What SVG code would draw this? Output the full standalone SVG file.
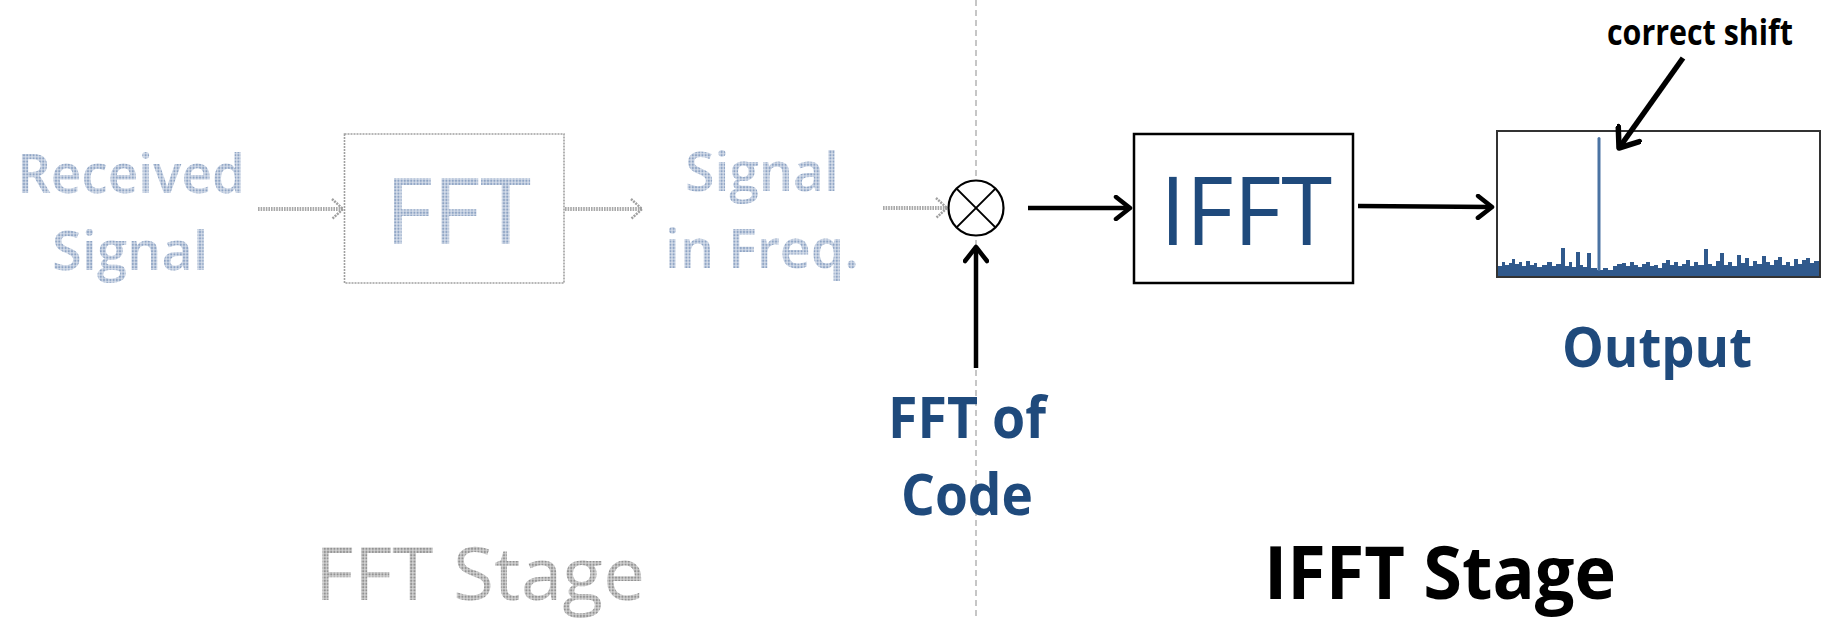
<svg xmlns="http://www.w3.org/2000/svg" width="1826" height="618" viewBox="0 0 1826 618">
<defs>
<pattern id="dotBlue" patternUnits="userSpaceOnUse" width="3.2" height="3.2">
<rect width="3.2" height="3.2" fill="#d6deea"/>
<circle cx="1.6" cy="1.6" r="1.15" fill="#8ea4c4"/>
</pattern>
<pattern id="dotGray" patternUnits="userSpaceOnUse" width="3.2" height="3.2">
<rect width="3.2" height="3.2" fill="#d4d4d4"/>
<circle cx="1.6" cy="1.6" r="1.15" fill="#929292"/>
</pattern>
<marker id="chev" viewBox="0 0 20 26" refX="17" refY="13" markerWidth="20" markerHeight="26" orient="auto" markerUnits="userSpaceOnUse">
<path d="M3,2 L17,13 L3,24" fill="none" stroke="#000" stroke-width="4.5" stroke-linecap="round" stroke-linejoin="round"/>
</marker>
<marker id="chevBig" viewBox="0 0 24 30" refX="20" refY="15" markerWidth="24" markerHeight="30" orient="auto" markerUnits="userSpaceOnUse">
<path d="M3,2 L20,15 L3,28" fill="none" stroke="#000" stroke-width="5.5" stroke-linecap="round" stroke-linejoin="round"/>
</marker>
<marker id="chevGray" viewBox="0 0 16 24" refX="14" refY="12" markerWidth="16" markerHeight="24" orient="auto" markerUnits="userSpaceOnUse">
<path d="M3,2 L14,12 L3,22" fill="none" stroke="#a0a0a0" stroke-width="2.5" stroke-dasharray="2 1"/>
</marker>
</defs>
<style>
text { font-family: "Open Sans", "Noto Sans", "DejaVu Sans", sans-serif; text-anchor: middle; }
.faded { fill: url(#dotBlue); }
.semi { font-weight: 600; }
.fadedGray { fill: url(#dotGray); }
.blue { fill: #1f4a7c; font-weight: bold; }
.conn { stroke: #000; stroke-width: 4.5; fill: none; marker-end: url(#chev); }
.connGray { stroke: #a8a8a8; stroke-width: 4; stroke-dasharray: 1.6 1; fill: none; marker-end: url(#chevGray); }
</style>
<rect width="1826" height="618" fill="#fff"/>

<g id="divider">
<line x1="976" y1="0" x2="976" y2="618" stroke="#b4b4b4" stroke-width="1.5" stroke-dasharray="6 4"/>
</g>

<g id="node-received">
<text class="faded semi" x="131" y="193" font-size="55" textLength="228" lengthAdjust="spacingAndGlyphs">Received</text>
<text class="faded semi" x="130" y="270" font-size="55" textLength="156" lengthAdjust="spacingAndGlyphs">Signal</text>
</g>

<g id="node-fft">
<rect x="344.5" y="134" width="219.5" height="149" fill="none" stroke="#a0a0a0" stroke-width="1.6" stroke-dasharray="2 1"/>
<text class="faded" x="458" y="244" font-size="92" textLength="146" lengthAdjust="spacingAndGlyphs">FFT</text>
</g>

<g id="node-signal-freq">
<text class="faded semi" x="762" y="191" font-size="55" textLength="154" lengthAdjust="spacingAndGlyphs">Signal</text>
<text class="faded semi" x="762" y="268" font-size="55" textLength="194" lengthAdjust="spacingAndGlyphs">in Freq.</text>
</g>

<g id="node-multiplier">
<circle cx="976" cy="208" r="27.5" fill="#fff" stroke="#000" stroke-width="2.2"/>
<line x1="956.6" y1="188.6" x2="995.4" y2="227.4" stroke="#000" stroke-width="2"/>
<line x1="995.4" y1="188.6" x2="956.6" y2="227.4" stroke="#000" stroke-width="2"/>
</g>

<g id="node-fft-code">
<text class="blue" x="967" y="438" font-size="57" textLength="158" lengthAdjust="spacingAndGlyphs">FFT of</text>
<text class="blue" x="967" y="515" font-size="57" textLength="132" lengthAdjust="spacingAndGlyphs">Code</text>
</g>

<g id="node-ifft">
<rect x="1134" y="134" width="219" height="149" fill="#fff" stroke="#000" stroke-width="2.5"/>
<text x="1246" y="245" font-size="95" fill="#1f4a7c" textLength="172" lengthAdjust="spacingAndGlyphs">IFFT</text>
</g>

<g id="node-output">
<path fill="#30598c" d="M1498,277 V266 H1502 V262 H1505 V265 H1509 V263 H1512 V259 H1515 V264 H1519 V262 H1522 V266 H1526 V261 H1530 V265 H1534 V263 H1537 V267 H1542 V265 H1547 V262 H1552 V266 H1556 V264 H1561 V248 H1565 V266 H1569 V262 H1572 V267 H1576 V252 H1580 V265 H1583 V267 H1587 V253 H1591 V268 H1597 V270 H1603 V268 H1608 V270 H1613 V266 H1617 V264 H1622 V263 H1626 V266 H1630 V262 H1634 V265 H1638 V267 H1642 V264 H1646 V262 H1650 V266 H1654 V265 H1658 V268 H1662 V263 H1666 V260 H1670 V265 H1674 V262 H1678 V266 H1682 V264 H1686 V260 H1690 V266 H1694 V262 H1698 V265 H1704 V249 H1708 V264 H1712 V266 H1716 V261 H1720 V253 H1724 V265 H1728 V262 H1732 V266 H1737 V255 H1741 V263 H1745 V258 H1749 V266 H1753 V261 H1757 V264 H1762 V256 H1766 V262 H1770 V265 H1774 V260 H1778 V257 H1782 V265 H1786 V262 H1790 V266 H1794 V259 H1798 V264 H1802 V260 H1806 V258 H1810 V263 H1814 V261 H1819 V277 Z"/>
<rect x="1597.5" y="137" width="3" height="134" rx="1.5" fill="#4a73a3"/>
<rect x="1497" y="131" width="323" height="146" fill="none" stroke="#333" stroke-width="2"/>
<text class="blue" x="1657" y="367" font-size="55" textLength="190" lengthAdjust="spacingAndGlyphs">Output</text>
</g>

<g id="label-correct-shift">
<text x="1700" y="45" font-size="35" font-weight="bold" fill="#000" textLength="186" lengthAdjust="spacingAndGlyphs">correct shift</text>
</g>

<g id="label-fft-stage">
<text class="fadedGray" x="480" y="600" font-size="73" textLength="330" lengthAdjust="spacingAndGlyphs">FFT Stage</text>
</g>

<g id="label-ifft-stage">
<text x="1440" y="599" font-size="74" font-weight="bold" fill="#000" textLength="352" lengthAdjust="spacingAndGlyphs">IFFT Stage</text>
</g>

<g id="connectors">
<line class="connGray" x1="258" y1="209" x2="343" y2="209"/>
<line class="connGray" x1="565" y1="209" x2="642" y2="209"/>
<line class="connGray" x1="883" y1="208" x2="947" y2="208"/>
<line class="conn" x1="1028" y1="208" x2="1130" y2="208"/>
<line class="conn" x1="976" y1="368" x2="976" y2="247"/>
<line class="conn" x1="1358" y1="206" x2="1492" y2="207"/>
<line stroke="#000" stroke-width="5.5" fill="none" marker-end="url(#chevBig)" x1="1683" y1="58" x2="1619" y2="148"/>
</g>
</svg>
